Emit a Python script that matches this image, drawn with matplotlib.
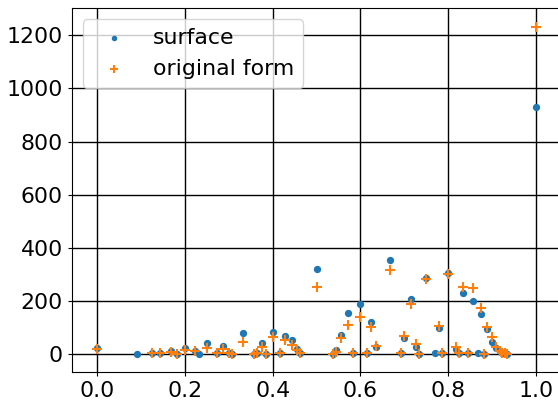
import numpy as np
from matplotlib import pyplot as plt

# surface values (dots)
surf_x = [0.0, 0.091, 0.125, 0.143, 0.167, 0.182, 0.2, 0.222, 0.231, 0.25,
          0.273, 0.286, 0.3, 0.308, 0.333, 0.357, 0.364, 0.375, 0.385, 0.4,
          0.417, 0.429, 0.444, 0.455, 0.462, 0.5, 0.538, 0.545, 0.556, 0.571,
          0.583, 0.6, 0.615, 0.625, 0.636, 0.667, 0.692, 0.7, 0.714, 0.727,
          0.733, 0.75, 0.769, 0.778, 0.786, 0.8, 0.818, 0.824, 0.833, 0.846,
          0.857, 0.867, 0.875, 0.882, 0.889, 0.9, 0.909, 0.917, 0.923, 0.929,
          0.933, 1.0]
surf_y = [21, 1, 2, 3, 12, 1, 24, 12, 1, 42,
          2, 30, 5, 1, 79, 1, 2, 40, 1, 81,
          4, 69, 53, 18, 4, 319, 1, 15, 71, 155,
          2, 190, 2, 121, 28, 355, 4, 61, 206, 28,
          1, 288, 2, 97, 2, 304, 19, 2, 228, 2,
          201, 2, 149, 1, 94, 44, 21, 10, 4, 2,
          1, 930]

# original form values (crosses)
orig_x = [0.0, 0.125, 0.143, 0.167, 0.182, 0.2, 0.222, 0.25, 0.273, 0.286,
          0.3, 0.308, 0.333, 0.357, 0.364, 0.375, 0.385, 0.4, 0.417, 0.429,
          0.444, 0.455, 0.462, 0.5, 0.538, 0.545, 0.556, 0.571, 0.583, 0.6,
          0.615, 0.625, 0.636, 0.667, 0.692, 0.7, 0.714, 0.727, 0.733, 0.75,
          0.778, 0.786, 0.8, 0.818, 0.824, 0.833, 0.846, 0.857, 0.875, 0.882,
          0.889, 0.9, 0.909, 0.917, 0.923, 0.929, 0.933, 1.0]
orig_y = [20, 2, 4, 7, 0, 15, 10, 21, 2, 18,
          5, 0, 46, 0, 2, 28, 0, 64, 5, 53,
          35, 15, 2, 253, 0, 9, 61, 110, 2, 140,
          2, 103, 30, 318, 5, 68, 187, 38, 0, 281,
          107, 2, 303, 25, 2, 253, 2, 247, 172, 1,
          103, 63, 28, 12, 5, 2, 1, 1231]

plt.rcParams['font.size'] = 15.8

fig = plt.figure(figsize=(5.58, 4.05), dpi=100)
ax = fig.add_axes([72/558, 0.0807, 528/558, 0.899])

ax.scatter(surf_x, surf_y, s=18, color='tab:blue', label='surface', zorder=3)
ax.scatter(orig_x, orig_y, s=55, marker='+', linewidths=1.5, color='tab:orange',
           label='original form', zorder=4)

ax.set_xlim(-0.0577, 1.146)
ax.set_ylim(-69, 1302)
ax.set_xticks([0.0, 0.2, 0.4, 0.6, 0.8, 1.0])
ax.set_yticks(np.arange(0, 1201, 200))
ax.tick_params(length=3)
ax.grid(color='k', linewidth=1.0)
ax.set_axisbelow(True)
ax.legend(loc='upper left', markerscale=0.7, borderaxespad=0.5)

fig.savefig('out.png', dpi=100)
